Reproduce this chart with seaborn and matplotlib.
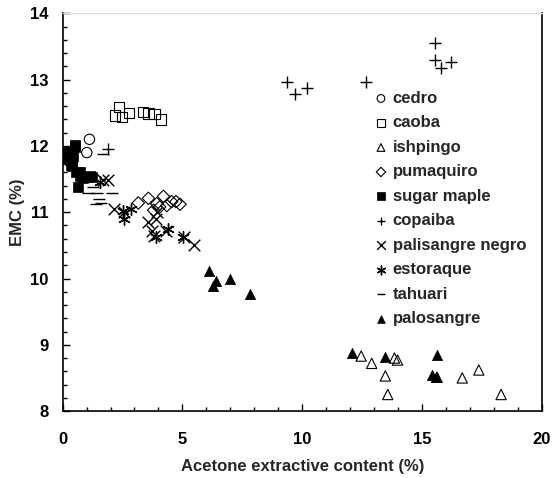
import matplotlib
matplotlib.use('Agg')
import matplotlib.pyplot as plt
from matplotlib.ticker import MultipleLocator
import seaborn as sns

# values
cedro_x = [1.12, 1.01]
cedro_y = [12.10, 11.90]
caoba_x = [2.36, 2.18, 2.48, 2.77, 3.36, 3.58, 3.83, 4.10]
caoba_y = [12.59, 12.46, 12.44, 12.50, 12.51, 12.49, 12.48, 12.40]
ishpingo_x = [12.46, 12.90, 13.47, 13.57, 13.98, 13.85, 15.63, 16.68, 17.37, 18.30]
ishpingo_y = [8.83, 8.72, 8.53, 8.25, 8.77, 8.80, 8.51, 8.50, 8.62, 8.25]
pumaquiro_x = [3.16, 3.58, 4.21, 4.55, 4.90, 3.93, 4.73, 4.05, 4.35, 3.80]
pumaquiro_y = [11.14, 11.21, 11.24, 11.16, 11.12, 11.13, 11.16, 11.08, 11.10, 11.03]
maple_x = [0.24, 0.52, 0.31, 0.38, 0.73, 0.66, 0.87, 1.15, 0.53, 0.27, 0.19, 0.34, 0.56, 0.71, 1.00, 1.22, 0.45, 0.40]
maple_y = [11.91, 11.99, 11.79, 11.69, 11.61, 11.38, 11.51, 11.54, 12.01, 11.93, 11.81, 11.71, 11.60, 11.55, 11.53, 11.53, 11.85, 11.75]
copaiba_x = [15.54, 15.54, 15.78, 16.19, 9.38, 9.70, 10.19, 12.66, 1.91]
copaiba_y = [13.56, 13.30, 13.18, 13.27, 12.97, 12.78, 12.88, 12.96, 11.96]
negro_x = [1.67, 1.89, 2.14, 2.55, 3.58, 3.73, 3.88, 3.95, 4.32, 5.06, 5.47, 3.80]
negro_y = [11.48, 11.48, 11.05, 11.00, 10.85, 10.72, 10.90, 11.00, 10.72, 10.62, 10.50, 10.64]
estoraque_x = [2.52, 2.55, 2.85, 3.88, 4.40, 5.01, 1.55]
estoraque_y = [11.02, 10.90, 11.05, 10.62, 10.75, 10.62, 11.45]
tahuari_x = [1.67, 1.08, 1.45, 2.08, 1.25, 1.52, 1.59, 1.40]
tahuari_y = [11.88, 11.29, 11.29, 11.29, 11.38, 11.20, 11.14, 11.13]
palosangre_x = [6.11, 6.42, 6.28, 7.00, 7.83, 12.06, 13.44, 15.63, 15.41, 15.58]
palosangre_y = [10.12, 9.97, 9.88, 9.99, 9.76, 8.87, 8.81, 8.85, 8.54, 8.52]

series = [
    ('cedro', cedro_x, cedro_y, 'o', False),
    ('caoba', caoba_x, caoba_y, 's', False),
    ('ishpingo', ishpingo_x, ishpingo_y, '^', False),
    ('pumaquiro', pumaquiro_x, pumaquiro_y, 'D', False),
    ('sugar maple', maple_x, maple_y, 's', True),
    ('copaiba', copaiba_x, copaiba_y, '+', None),
    ('palisangre negro', negro_x, negro_y, 'x', None),
    ('estoraque', estoraque_x, estoraque_y, (6, 2, 0), None),
    ('tahuari', tahuari_x, tahuari_y, '_', None),
    ('palosangre', palosangre_x, palosangre_y, '^', True),
]

sns.set_style('white')
plt.rcParams['font.family'] = ['Liberation Sans', 'DejaVu Sans']
plt.rcParams['font.weight'] = 'bold'

fig = plt.figure(figsize=(5.54, 4.78), dpi=100)
ax = fig.add_axes([0.113, 0.140, 0.865, 0.832])

for name, xs, ys, m, filled in series:
    if filled is None:
        sns.scatterplot(x=xs, y=ys, marker=m, color='black', s=70, linewidth=1.0, label=name, ax=ax)
    elif filled:
        sns.scatterplot(x=xs, y=ys, marker=m, color='black', edgecolor='black', s=55, linewidth=0.5, label=name, ax=ax)
    else:
        size = 40 if m == 'D' else 55
        sns.scatterplot(x=xs, y=ys, marker=m, facecolor='none', edgecolor='black', s=size, linewidth=0.8, label=name, ax=ax)

ax.set_xlim(0, 20)
ax.set_ylim(8, 14)
ax.xaxis.set_major_locator(MultipleLocator(5))
ax.xaxis.set_minor_locator(MultipleLocator(1))
ax.yaxis.set_major_locator(MultipleLocator(1))
ax.yaxis.set_minor_locator(MultipleLocator(0.2))
ax.tick_params(which='both', direction='in', bottom=True, left=True, top=False, right=False, width=1.0, colors='black')
ax.tick_params(which='major', length=5, labelsize=12)
ax.tick_params(axis='x', which='major', pad=15)
ax.tick_params(axis='y', which='major', pad=10)
ax.tick_params(which='minor', length=3)
for lab in ax.get_xticklabels() + ax.get_yticklabels():
    lab.set_fontweight('bold')

for side in ['left', 'bottom', 'right']:
    ax.spines[side].set_color('black')
    ax.spines[side].set_linewidth(1.2)
ax.spines['top'].set_color('#dddddd')
ax.spines['top'].set_linewidth(1.0)

ax.set_xlabel('Acetone extractive content (%)', fontsize=12, fontweight='bold', labelpad=9)
ax.set_ylabel('EMC (%)', fontsize=12, fontweight='bold', labelpad=4)

ax.legend(loc='upper left', bbox_to_anchor=(0.64, 0.822), frameon=False, fontsize=12,
          handlelength=0.6, handletextpad=0.4, labelspacing=0.57, borderaxespad=0, markerscale=0.75)

fig.savefig('out.png', dpi=100)
